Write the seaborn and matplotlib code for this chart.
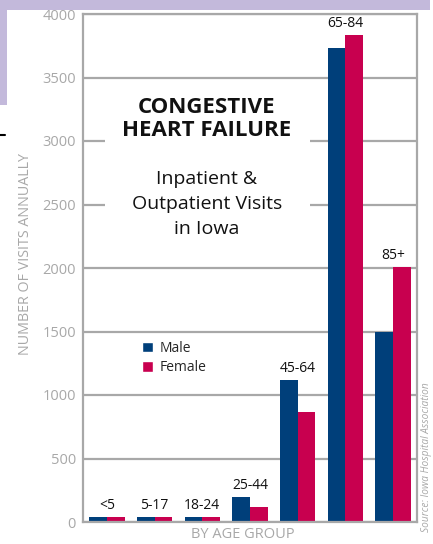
import pandas as pd
import matplotlib
matplotlib.use("Agg")
import matplotlib.pyplot as plt
import seaborn as sns
from matplotlib.patches import Rectangle
from matplotlib.lines import Line2D

age_groups = ["<5", "5-17", "18-24", "25-44", "45-64", "65-84", "85+"]
male = [40, 40, 40, 195, 1115, 3730, 1500]
female = [40, 40, 40, 115, 870, 3835, 2005]
series = ["Male", "Female"]

df = pd.DataFrame({
    "age": age_groups * 2,
    "visits": male + female,
    "sex": ["Male"] * len(age_groups) + ["Female"] * len(age_groups),
})

sns.set_style("white")
plt.rcParams["font.family"] = ["Open Sans", "DejaVu Sans"]

GREY = "#a8a8a8"
NAVY = "#003f7a"
RED = "#c8004f"

fig = plt.figure(figsize=(4.33, 5.44), dpi=100)
ax = fig.add_axes([83 / 433, 1 - 522 / 544, 334 / 433, 508 / 544])

sns.barplot(data=df, x="age", y="visits", hue="sex", hue_order=series,
            palette=[NAVY, RED], width=0.74, gap=0, saturation=1,
            linewidth=0, ax=ax, legend=False)

ax.set_ylim(0, 4000)
ax.set_xlim(-0.5, 6.5)
ax.set_yticks(range(0, 4001, 500))
ax.set_axisbelow(True)
ax.yaxis.grid(True, color=GREY, linewidth=1.6)
for s in ax.spines.values():
    s.set_color(GREY)
    s.set_linewidth(1.6)
ax.tick_params(axis="y", length=0, pad=5, labelsize=10.5, labelcolor=GREY)
ax.tick_params(axis="x", length=0, labelbottom=False)

ax.set_ylabel("NUMBER OF VISITS ANNUALLY", color=GREY, fontsize=10.3, va="center")
ax.yaxis.set_label_coords(-0.172, 0.528)
ax.set_xlabel("BY AGE GROUP", color=GREY, fontsize=10.5)
ax.xaxis.set_label_coords(0.477, -0.024)
ax.xaxis.label.set_va("center")

# group labels above the taller bar
for i, grp in enumerate(age_groups):
    top = max(male[i], female[i])
    ax.annotate(grp, (i, top), xytext=(0, 3), textcoords="offset points",
                ha="center", va="bottom", fontsize=10, color="#111111")

# white panel behind the title block
ax.add_patch(Rectangle((0.066, 0.545), 0.614, 0.305, transform=ax.transAxes,
                       facecolor="white", edgecolor="none", zorder=0.8))
ax.text(0.371, 0.793, "CONGESTIVE\nHEART FAILURE", transform=ax.transAxes,
        ha="center", va="center", fontsize=16, fontweight="bold",
        linespacing=1.12, color="#111111")
ax.text(0.371, 0.626, "Inpatient &\nOutpatient Visits\nin Iowa", transform=ax.transAxes,
        ha="center", va="center", fontsize=14, linespacing=1.52, color="#111111")

handles = [Rectangle((0, 0), 1, 1, facecolor=NAVY), Rectangle((0, 0), 1, 1, facecolor=RED)]
ax.legend(handles, series, loc="upper left", bbox_to_anchor=(0.155, 0.37),
          frameon=False, fontsize=10, handlelength=0.8, handleheight=0.8,
          handletextpad=0.5, labelspacing=0.3, borderpad=0)

# page decorations
fig.patches.append(Rectangle((0, 1 - 10 / 544), 430 / 433, 10 / 544,
                             transform=fig.transFigure, facecolor="#c3b9db", edgecolor="none"))
fig.patches.append(Rectangle((0, 1 - 105 / 544), 7 / 433, 105 / 544,
                             transform=fig.transFigure, facecolor="#c3b9db", edgecolor="none"))
fig.lines.append(Line2D([0, 5 / 433], [1 - 135 / 544] * 2, transform=fig.transFigure,
                        color="black", linewidth=1.5))
fig.text(427 / 433, 1 - 457 / 544, "Source: Iowa Hospital Association", rotation=90,
         ha="center", va="center", fontsize=7.3, style="italic", color=GREY)

fig.savefig("out.png", dpi=100)
